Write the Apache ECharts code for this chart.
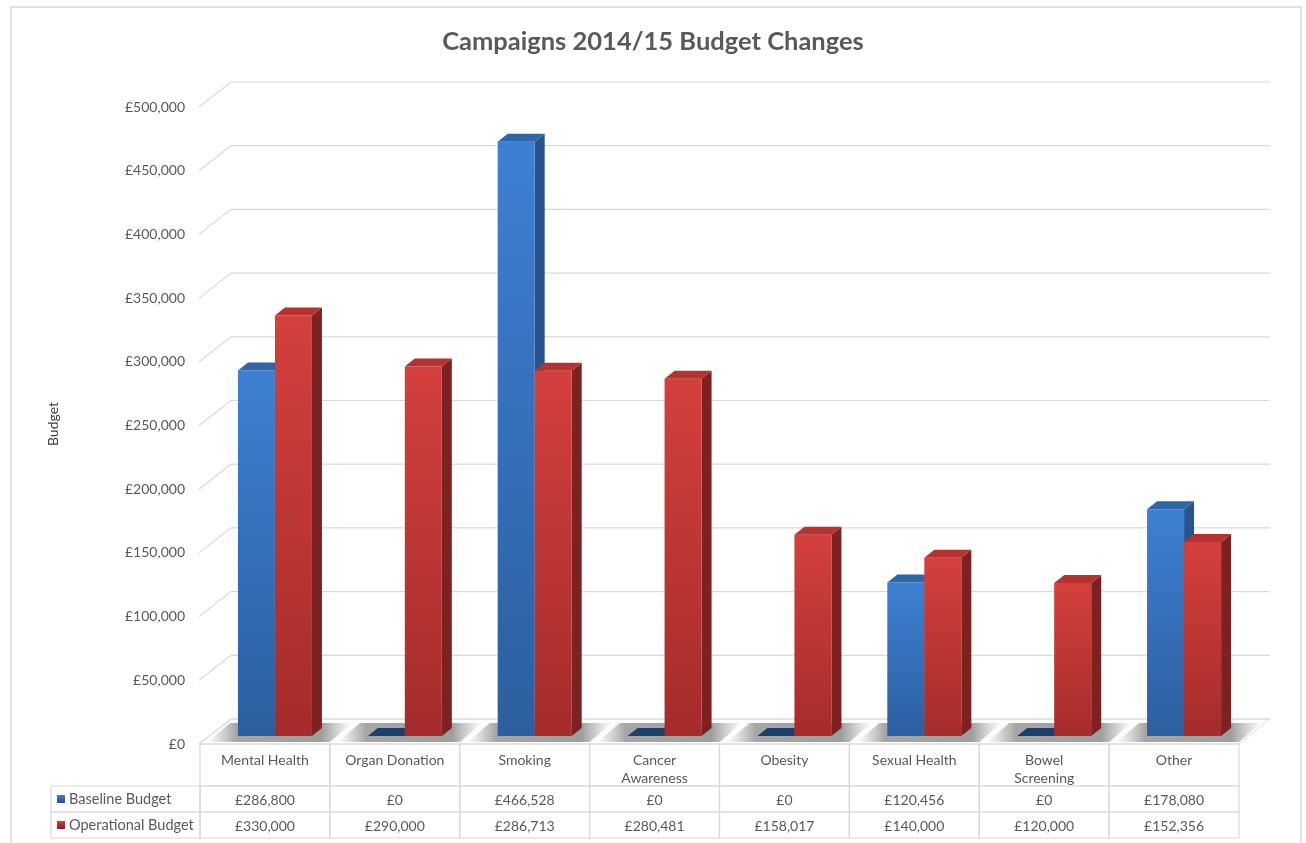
<!DOCTYPE html>
<html>
<head>
<meta charset="utf-8">
<title>Campaigns 2014/15 Budget Changes</title>
<script src="https://cdn.jsdelivr.net/npm/echarts@6/dist/echarts.min.js"></script>
<style>
  html, body { margin: 0; padding: 0; background: #ffffff; }
  #chart { width: 1306px; height: 843px; }
</style>
</head>
<body>
<div id="chart"></div>
<script>
// Campaign budgets, 2014/15
const categories = ['Mental Health', 'Organ Donation', 'Smoking', 'Cancer\nAwareness', 'Obesity', 'Sexual Health', 'Bowel\nScreening', 'Other'];
const seriesNames = ['Baseline Budget', 'Operational Budget'];
const baselineBudget = [286800, 0, 466528, 0, 0, 120456, 0, 178080];
const operationalBudget = [330000, 290000, 286713, 280481, 158017, 140000, 120000, 152356];
const yTicks = [0, 50000, 100000, 150000, 200000, 250000, 300000, 350000, 400000, 450000, 500000];

const FONT = 'Lato, "Open Sans", sans-serif';
const TEXT = '#595959';
const LINE = '#d9d9d9';

// perspective offsets: back wall and bar slab depth
const WALL_DX = 31, WALL_DY = -25;
const BAR_DX = 10, BAR_DY = -8;

const palette = [
  { front: ['#3d80d3', '#2c5f9f'], side: '#27548d', top: '#2f66a8', flat: '#1f3f6b' },
  { front: ['#d4403d', '#a42c2b'], side: '#7e2221', top: '#b53230', flat: '#7e2221' }
];

const fmt = v => '£' + v.toLocaleString('en-GB');

const chart = echarts.init(document.getElementById('chart'), null, { renderer: 'canvas' });

// back wall + side wall gridlines
function renderGrid(params, api) {
  const cs = params.coordSys;
  const p = api.coord([0, api.value(0)]);
  const y = p[1];
  const xl = cs.x;
  const xr = cs.x + cs.width;
  return {
    type: 'polyline',
    shape: { points: [[xl - 1, y], [xl + WALL_DX, y + WALL_DY], [xr + WALL_DX, y + WALL_DY]] },
    style: { stroke: LINE, lineWidth: 1.2, fill: null },
    silent: true
  };
}

// floor outline between the front edge and the back wall
function renderFloor(params, api) {
  const cs = params.coordSys;
  const y = api.coord([0, 0])[1];
  const xl = cs.x, xr = cs.x + cs.width;
  return {
    type: 'polygon',
    shape: { points: [[xl - 1, y], [xr, y], [xr + WALL_DX, y + WALL_DY], [xl + WALL_DX, y + WALL_DY]] },
    style: { fill: '#fdfdfd', stroke: '#dedede', lineWidth: 1 },
    silent: true
  };
}

// soft floor shadow around each bar pair
function renderShadow(params, api) {
  const i = api.value(0);
  const base = api.coord([i, 0]);
  const band = api.size([1, 0])[0];
  const bw = band * 0.285;
  const x0 = base[0] - bw + BAR_DX;        // left edge of the pair
  const x1 = base[0] + bw + 2 * BAR_DX;    // right edge incl. side face
  const yf = base[1] - 2, yb = base[1] - 21;
  const skew = 22;
  const xa = x0 - 30, xb = x1 + 8;
  const total = (xb + skew) - xa;
  const at = x => Math.max(0, Math.min(1, (x - xa) / total));
  const g = new echarts.graphic.LinearGradient(xa, 0, xb + skew, 0, [
    { offset: 0, color: 'rgba(110,110,110,0)' },
    { offset: at(x0 - 2), color: 'rgba(80,80,80,0.5)' },
    { offset: at(x1), color: 'rgba(80,80,80,0.55)' },
    { offset: 1, color: 'rgba(110,110,110,0)' }
  ], true);
  return {
    type: 'polygon',
    shape: { points: [[xa, yf], [xb, yf], [xb + skew, yb], [xa + skew, yb]] },
    style: { fill: g },
    silent: true
  };
}

function makeBarRenderer(sIdx) {
  const c = palette[sIdx];
  return function (params, api) {
    const i = api.value(0);
    const v = api.value(1);
    const base = api.coord([i, 0]);
    const top = api.coord([i, v]);
    const band = api.size([1, 0])[0];
    const bw = band * 0.285;
    const x0 = base[0] - bw + BAR_DX + sIdx * bw;
    const x1 = x0 + bw;
    const yb = base[1] + BAR_DY;
    const yt = top[1] + BAR_DY;
    const topFace = {
      type: 'polygon',
      shape: { points: [[x0, yt], [x1, yt], [x1 + BAR_DX, yt + BAR_DY], [x0 + BAR_DX, yt + BAR_DY]] },
      style: { fill: v === 0 ? c.flat : c.top }
    };
    if (v === 0) {
      return { type: 'group', children: [topFace] };
    }
    return {
      type: 'group',
      children: [
        {
          type: 'polygon',
          shape: { points: [[x1, yt], [x1 + BAR_DX, yt + BAR_DY], [x1 + BAR_DX, yb + BAR_DY], [x1, yb]] },
          style: { fill: c.side }
        },
        {
          type: 'rect',
          shape: { x: x0, y: yt, width: bw, height: yb - yt },
          style: {
            fill: new echarts.graphic.LinearGradient(0, 0, 0, 1, [
              { offset: 0, color: c.front[0] },
              { offset: 1, color: c.front[1] }
            ])
          }
        },
        topFace
      ]
    };
  };
}

// data table below the plot: category header row and one row per series
function renderTable(params, api) {
  const i = api.value(0);
  const base = api.coord([i, 0]);
  const band = api.size([1, 0])[0];
  const xl = base[0] - band / 2;
  const y0 = base[1];
  const rowH = [42, 26, 26];
  const vals = [baselineBudget[i], operationalBudget[i]];
  const children = [];
  let y = y0;
  rowH.forEach((h, r) => {
    children.push({
      type: 'rect',
      shape: { x: xl, y: y, width: band, height: h },
      style: { fill: null, stroke: LINE, lineWidth: 1.2 }
    });
    if (r === 0) {
      children.push({
        type: 'text',
        style: {
          text: categories[i], x: base[0], y: y + 7, align: 'center', verticalAlign: 'top',
          fill: TEXT, fontSize: 14, fontFamily: FONT, lineHeight: 18
        }
      });
    } else {
      children.push({
        type: 'text',
        style: {
          text: fmt(vals[r - 1]), x: base[0], y: y + h / 2 + 1, align: 'center', verticalAlign: 'middle',
          fill: TEXT, fontSize: 14, fontFamily: FONT
        }
      });
    }
    y += h;
  });
  return { type: 'group', children: children, silent: true };
}

// legend keys in the first table column
const legendCells = [];
seriesNames.forEach((name, k) => {
  const y = 786 + k * 26;
  const c = palette[k];
  legendCells.push(
    { type: 'rect', shape: { x: 51, y: y, width: 149, height: 26 }, style: { fill: null, stroke: LINE, lineWidth: 1.2 }, silent: true },
    { type: 'rect', shape: { x: 57, y: y + 9, width: 8, height: 8 },
      style: { fill: new echarts.graphic.LinearGradient(0, 0, 0, 1, [
        { offset: 0, color: c.front[0] }, { offset: 1, color: c.side }]) }, silent: true },
    { type: 'text', style: { text: name, x: 69, y: y + 13, verticalAlign: 'middle', fill: TEXT, fontSize: 14.5, fontFamily: FONT }, silent: true }
  );
});

const option = {
  backgroundColor: '#ffffff',
  animation: false,
  title: {
    text: 'Campaigns 2014/15 Budget Changes',
    left: 'center',
    top: 24,
    textStyle: { color: TEXT, fontSize: 25.5, fontWeight: 'bold', fontFamily: FONT }
  },
  grid: { left: 200, right: 67, top: 107, bottom: 99 },
  xAxis: {
    type: 'category',
    data: categories,
    show: false
  },
  yAxis: {
    type: 'value',
    min: 0,
    max: 500000,
    interval: 50000,
    axisLine: { show: false },
    axisTick: { show: false },
    splitLine: { show: false },
    axisLabel: { margin: 15, color: TEXT, fontSize: 14, fontFamily: FONT, formatter: v => fmt(v) }
  },
  graphic: [
    { type: 'rect', shape: { x: 11, y: 7, width: 1290, height: 845 }, style: { fill: null, stroke: LINE, lineWidth: 1.5 }, silent: true, z: -1 },
    { type: 'text', x: 53, y: 424, rotation: Math.PI / 2,
      style: { text: 'Budget', align: 'center', verticalAlign: 'middle', fill: '#404040', fontSize: 14, fontFamily: FONT }, silent: true },
    ...legendCells
  ],
  series: [
    { type: 'custom', name: 'floor', renderItem: renderFloor, data: [[0]], encode: { y: 0 }, z: 1, silent: true },
    { type: 'custom', name: 'grid', renderItem: renderGrid, data: yTicks.map(v => [v]), encode: { y: 0 }, z: 2, silent: true },
    { type: 'custom', name: 'shadow', renderItem: renderShadow, data: categories.map((c, i) => [i, 0]), encode: { x: 0, y: 1 }, z: 3, silent: true },
    { type: 'custom', name: seriesNames[0], renderItem: makeBarRenderer(0), data: baselineBudget.map((v, i) => [i, v]), encode: { x: 0, y: 1 }, z: 4 },
    { type: 'custom', name: seriesNames[1], renderItem: makeBarRenderer(1), data: operationalBudget.map((v, i) => [i, v]), encode: { x: 0, y: 1 }, z: 5 },
    { type: 'custom', name: 'table', renderItem: renderTable, data: categories.map((c, i) => [i, 0]), encode: { x: 0, y: 1 }, z: 6, silent: true }
  ]
};

chart.setOption(option);
</script>
</body>
</html>
